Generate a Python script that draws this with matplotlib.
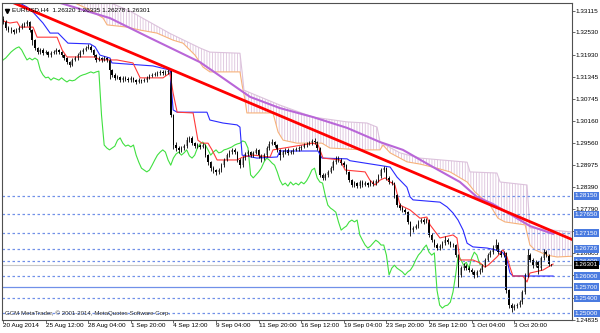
import matplotlib
matplotlib.use('Agg')
import matplotlib.pyplot as plt
import matplotlib.transforms as mtransforms
from matplotlib.patches import Polygon
import numpy as np

plt.rcParams['font.family'] = ['Liberation Sans', 'DejaVu Sans']
plt.rcParams['hatch.linewidth'] = 0.6

# EURUSD H4 candles (open of each bar = previous close)
first_open = 1.3290
closes = [
    1.3281, 1.3265, 1.3259, 1.3259, 1.3254, 1.3259, 1.3265, 1.3273, 1.3275, 1.3281,
    1.3259, 1.3232, 1.3211, 1.3200, 1.3206, 1.3198, 1.3200, 1.3192, 1.3198, 1.3200,
    1.3206, 1.3200, 1.3192, 1.3184, 1.3173, 1.3165, 1.3179, 1.3184, 1.3192, 1.3200,
    1.3206, 1.3211, 1.3214, 1.3206, 1.3192, 1.3179, 1.3184, 1.3179, 1.3184, 1.3179,
    1.3152, 1.3139, 1.3131, 1.3133, 1.3125, 1.3131, 1.3128, 1.3125, 1.3131, 1.3125,
    1.3120, 1.3125, 1.3123, 1.3125, 1.3131, 1.3136, 1.3139, 1.3141, 1.3144, 1.3147,
    1.3144, 1.3147, 1.3149, 1.3031, 1.2951, 1.2943, 1.2938, 1.2943, 1.2948, 1.2964,
    1.2970, 1.2956, 1.2948, 1.2951, 1.2946, 1.2951, 1.2924, 1.2905, 1.2889, 1.2884,
    1.2879, 1.2884, 1.2897, 1.2911, 1.2924, 1.2932, 1.2938, 1.2932, 1.2911, 1.2897,
    1.2916, 1.2927, 1.2932, 1.2924, 1.2930, 1.2938, 1.2922, 1.2916, 1.2924, 1.2943,
    1.2954, 1.2959, 1.2951, 1.2938, 1.2924, 1.2932, 1.2938, 1.2930, 1.2932, 1.2938,
    1.2940, 1.2943, 1.2946, 1.2951, 1.2954, 1.2956, 1.2962, 1.2959, 1.2943, 1.2871,
    1.2863, 1.2871, 1.2879, 1.2889, 1.2905, 1.2916, 1.2911, 1.2903, 1.2897, 1.2879,
    1.2857, 1.2844, 1.2849, 1.2841, 1.2852, 1.2844, 1.2849, 1.2844, 1.2852, 1.2847,
    1.2855, 1.2868, 1.2884, 1.2889, 1.2863, 1.2852, 1.2849, 1.2817, 1.2790, 1.2782,
    1.2777, 1.2771, 1.2745, 1.2723, 1.2729, 1.2734, 1.2745, 1.2750, 1.2745, 1.2750,
    1.2710, 1.2696, 1.2683, 1.2675, 1.2680, 1.2688, 1.2696, 1.2691, 1.2683, 1.2683,
    1.2656, 1.2603, 1.2621, 1.2629, 1.2621, 1.2616, 1.2611, 1.2603, 1.2611, 1.2616,
    1.2627, 1.2643, 1.2656, 1.2664, 1.2675, 1.2683, 1.2664, 1.2656, 1.2662, 1.2562,
    1.2522, 1.2514, 1.2520, 1.2522, 1.2530, 1.2557, 1.2603, 1.2656, 1.2643, 1.2629,
    1.2637, 1.2621, 1.2648, 1.2664, 1.2656, 1.2632, 1.2630,
]
highs = [
    1.3296, 1.3285, 1.3270, 1.3266, 1.3263, 1.3264, 1.3270, 1.3278, 1.3282, 1.3286,
    1.3284, 1.3262, 1.3236, 1.3215, 1.3211, 1.3210, 1.3205, 1.3204, 1.3203, 1.3206,
    1.3212, 1.3209, 1.3203, 1.3196, 1.3187, 1.3177, 1.3183, 1.3189, 1.3197, 1.3205,
    1.3211, 1.3216, 1.3222, 1.3218, 1.3209, 1.3195, 1.3189, 1.3188, 1.3189, 1.3188,
    1.3182, 1.3156, 1.3143, 1.3138, 1.3137, 1.3135, 1.3136, 1.3132, 1.3136, 1.3134,
    1.3129, 1.3130, 1.3129, 1.3130, 1.3135, 1.3141, 1.3144, 1.3147, 1.3149, 1.3152,
    1.3151, 1.3153, 1.3156, 1.3152, 1.3035, 1.2958, 1.2948, 1.2949, 1.2953, 1.2972,
    1.2976, 1.2974, 1.2960, 1.2957, 1.2955, 1.2956, 1.2954, 1.2928, 1.2909, 1.2894,
    1.2888, 1.2890, 1.2902, 1.2916, 1.2929, 1.2937, 1.2944, 1.2942, 1.2935, 1.2915,
    1.2921, 1.2932, 1.2937, 1.2936, 1.2935, 1.2943, 1.2941, 1.2926, 1.2929, 1.2948,
    1.2962, 1.2966, 1.2963, 1.2955, 1.2941, 1.2937, 1.2943, 1.2942, 1.2938, 1.2943,
    1.2946, 1.2949, 1.2951, 1.2956, 1.2959, 1.2962, 1.2968, 1.2970, 1.2963, 1.2946,
    1.2877, 1.2876, 1.2884, 1.2894, 1.2910, 1.2922, 1.2921, 1.2915, 1.2907, 1.2900,
    1.2882, 1.2860, 1.2855, 1.2853, 1.2857, 1.2856, 1.2854, 1.2853, 1.2857, 1.2856,
    1.2860, 1.2873, 1.2889, 1.2896, 1.2893, 1.2867, 1.2857, 1.2852, 1.2820, 1.2795,
    1.2787, 1.2781, 1.2774, 1.2748, 1.2734, 1.2739, 1.2750, 1.2755, 1.2755, 1.2756,
    1.2753, 1.2714, 1.2700, 1.2688, 1.2685, 1.2693, 1.2708, 1.2701, 1.2695, 1.2689,
    1.2686, 1.2660, 1.2626, 1.2634, 1.2633, 1.2626, 1.2621, 1.2615, 1.2616, 1.2621,
    1.2632, 1.2648, 1.2662, 1.2670, 1.2682, 1.2700, 1.2690, 1.2670, 1.2668, 1.2665,
    1.2566, 1.2527, 1.2525, 1.2528, 1.2536, 1.2562, 1.2608, 1.2672, 1.2662, 1.2648,
    1.2643, 1.2641, 1.2654, 1.2673, 1.2670, 1.2660, 1.26335,
]
lows = [
    1.3276, 1.3260, 1.3254, 1.3252, 1.3249, 1.3250, 1.3255, 1.3262, 1.3268, 1.3271,
    1.3255, 1.3218, 1.3205, 1.3195, 1.3196, 1.3193, 1.3194, 1.3187, 1.3188, 1.3194,
    1.3196, 1.3195, 1.3187, 1.3179, 1.3168, 1.3160, 1.3162, 1.3175, 1.3180, 1.3188,
    1.3196, 1.3202, 1.3207, 1.3201, 1.3187, 1.3174, 1.3175, 1.3174, 1.3175, 1.3173,
    1.3128, 1.3134, 1.3126, 1.3127, 1.3120, 1.3121, 1.3123, 1.3120, 1.3121, 1.3120,
    1.3115, 1.3116, 1.3118, 1.3119, 1.3121, 1.3127, 1.3132, 1.3135, 1.3137, 1.3140,
    1.3139, 1.3140, 1.3142, 1.3025, 1.2940, 1.2935, 1.2930, 1.2933, 1.2938, 1.2944,
    1.2960, 1.2951, 1.2943, 1.2944, 1.2941, 1.2942, 1.2918, 1.2898, 1.2882, 1.2876,
    1.2870, 1.2873, 1.2880, 1.2893, 1.2907, 1.2920, 1.2928, 1.2927, 1.2905, 1.2890,
    1.2893, 1.2912, 1.2922, 1.2919, 1.2920, 1.2926, 1.2917, 1.2905, 1.2911, 1.2920,
    1.2939, 1.2950, 1.2946, 1.2932, 1.2910, 1.2919, 1.2928, 1.2925, 1.2926, 1.2928,
    1.2934, 1.2936, 1.2939, 1.2942, 1.2947, 1.2950, 1.2952, 1.2954, 1.2938, 1.2865,
    1.2857, 1.2858, 1.2866, 1.2875, 1.2885, 1.2901, 1.2906, 1.2898, 1.2892, 1.2874,
    1.2851, 1.2838, 1.2839, 1.2836, 1.2837, 1.2839, 1.2840, 1.2838, 1.2840, 1.2842,
    1.2843, 1.2851, 1.2864, 1.2879, 1.2857, 1.2847, 1.2843, 1.2810, 1.2785, 1.2777,
    1.2772, 1.2766, 1.2739, 1.2708, 1.2718, 1.2725, 1.2730, 1.2741, 1.2740, 1.2741,
    1.2704, 1.2690, 1.2677, 1.2670, 1.2670, 1.2676, 1.2684, 1.2686, 1.2678, 1.2677,
    1.2650, 1.2571, 1.2598, 1.2615, 1.2616, 1.2610, 1.2606, 1.2595, 1.2598, 1.2606,
    1.2612, 1.2623, 1.2639, 1.2651, 1.2659, 1.2670, 1.2659, 1.2651, 1.2651, 1.2555,
    1.2514, 1.2504, 1.2509, 1.2515, 1.2517, 1.2526, 1.2552, 1.2598, 1.2637, 1.2622,
    1.2624, 1.2605, 1.2616, 1.2643, 1.2650, 1.2628, 1.26278,
]

x_labels = ['20 Aug 2014', '25 Aug 12:00', '28 Aug 04:00', '1 Sep 20:00', '4 Sep 12:00',
            '9 Sep 04:00', '11 Sep 20:00', '16 Sep 12:00', '19 Sep 04:00', '23 Sep 20:00',
            '26 Sep 12:00', '1 Oct 04:00', '3 Oct 20:00']
bars_per_label = 16

# Ichimoku and moving average, read as (bar, price) vertices
tenkan_bar = [-1, 2.6, 5.3, 6.4, 11.3, 12.8, 20.3, 22.2, 24, 34.6, 36.4, 42.8, 48.8, 51.5, 60.1,
              62.7, 63.9, 65.4, 71.4, 73.2, 74.7, 77, 78.5, 80.4, 87.9, 90.1, 93.9, 100.3, 101.4,
              116.4, 118.3, 120.2, 126.6, 128.5, 136, 137.8, 139.7, 141.6, 143.5, 145.4, 147.2,
              149.1, 152.9, 156.6, 159.2, 160.4, 164.1, 169, 170.5, 171.6, 176.5, 179.2, 181,
              182.2, 185.5, 187.8, 189.3, 190.4, 191.5, 195.3, 196.8, 197.9, 202.8, 206.6]
tenkan = [1.3286, 1.3278, 1.3281, 1.3267, 1.3267, 1.3240, 1.3240, 1.3206, 1.3187, 1.3187,
          1.3179, 1.3179, 1.3171, 1.3131, 1.3131, 1.3144, 1.3090, 1.3039, 1.3037, 1.2964,
          1.2956, 1.2956, 1.2938, 1.2911, 1.2911, 1.2919, 1.2924, 1.2919, 1.2938, 1.2956,
          1.2952, 1.2916, 1.2911, 1.2884, 1.2879, 1.2857, 1.2844, 1.2857, 1.2863, 1.2852,
          1.2844, 1.2790, 1.2777, 1.2755, 1.2758, 1.2737, 1.2702, 1.2710, 1.2702, 1.2643,
          1.2643, 1.2635, 1.2624, 1.2629, 1.2651, 1.2670, 1.2651, 1.2624, 1.2600, 1.2600,
          1.2584, 1.2608, 1.2616, 1.2632]

kijun_bar = [2.6, 9, 11.3, 15, 17.7, 20.7, 22.2, 24.4, 32.7, 34.6, 36.4, 40.2, 40.9, 56.3,
             62.7, 63.9, 65.4, 76.6, 77.7, 82.6, 87.9, 89, 89.8, 95.4, 103, 104, 118.3, 119.8,
             129.2, 130.3, 145.4, 148, 151.7, 152.9, 154, 164.1, 166.8, 169, 170.9, 172.8,
             174.3, 176.5, 181.8, 185.5, 187.8, 189.3, 190.4, 191.5, 206.6]
kijun = [1.3345, 1.3321, 1.3307, 1.3278, 1.3251, 1.3251, 1.3240, 1.3224, 1.3222, 1.3214,
         1.3192, 1.3184, 1.3171, 1.3163, 1.3152, 1.3045, 1.3039, 1.3039, 1.3018, 1.3010,
         1.3005, 1.2999, 1.2924, 1.2916, 1.2919, 1.2935, 1.2935, 1.2916, 1.2914, 1.2909,
         1.2892, 1.2865, 1.2838, 1.2812, 1.2804, 1.2798, 1.2785, 1.2769, 1.2750, 1.2723,
         1.2688, 1.2678, 1.2675, 1.2669, 1.2662, 1.2643, 1.2608, 1.2600, 1.2600]

span_a_bar = [24.4, 32.7, 37.6, 39.1, 46.6, 51.5, 57.8, 63.9, 67.6, 72.1, 75.1, 77.7, 89,
              89.8, 90.9, 91.6, 101.4, 103.3, 105.2, 110.4, 119.8, 122.8, 135.2, 141.6, 142.7,
              145.4, 151.7, 156.6, 163, 167.9, 174.3, 177.3, 182.9, 185.9, 188.5, 196.1, 197.9,
              199.8, 204.3, 208.1, 213.7]
span_a = [1.3340, 1.3313, 1.3291, 1.3273, 1.3267, 1.3259, 1.3251, 1.3232, 1.3224, 1.3192,
          1.3160, 1.3147, 1.3147, 1.3112, 1.3072, 1.3037, 1.3037, 1.2986, 1.2964, 1.2956,
          1.2956, 1.2943, 1.2938, 1.2938, 1.2951, 1.2930, 1.2906, 1.2900, 1.2889, 1.2879,
          1.2852, 1.2825, 1.2790, 1.2755, 1.2745, 1.2737, 1.2683, 1.2670, 1.2656, 1.2651,
          1.2653]

span_b_bar = [24.4, 47.7, 62.7, 74, 77.7, 89, 89.8, 90.5, 104, 116.4, 129.2, 136.7, 140.5,
              141.6, 149.1, 156.6, 174.3, 175.4, 185.5, 186.7, 196.8, 197.9, 213.7]
span_b = [1.3380, 1.3310, 1.3250, 1.3211, 1.3200, 1.3197, 1.3147, 1.3098, 1.3058, 1.3026,
          1.3013, 1.3010, 1.2999, 1.2959, 1.2930, 1.2916, 1.2905, 1.2879, 1.2876, 1.2852,
          1.2844, 1.2729, 1.2718]

ma_bar = [17.7, 40.2, 55.2, 74, 81.5, 92.8, 104, 116.4, 129.2, 141.6, 150.2, 161.5, 171.6,
          178, 184, 190.4, 197.9, 206.6]
ma = [1.3340, 1.3291, 1.3238, 1.3173, 1.3136, 1.3080, 1.3050, 1.3026, 1.2997, 1.2959,
      1.2938, 1.2892, 1.2852, 1.2812, 1.2793, 1.2766, 1.2734, 1.2713]

chikou_shift = 26

trend_bar = [4, 214]
trend_price = [1.3332, 1.2697]

# horizontal levels
dotted_levels = [1.28150, 1.27650, 1.27150, 1.26726, 1.26400, 1.26000, 1.25400, 1.25000]
solid_level = 1.25700
marked_levels = [1.28150, 1.27650, 1.27150, 1.26726, 1.26400, 1.26000, 1.25700, 1.25400, 1.25000]
last_price = 1.26301
y_ticks = [1.33115, 1.32530, 1.31930, 1.31345, 1.30745, 1.30160, 1.29560, 1.28975,
           1.28390, 1.27790, 1.27205, 1.26605, 1.26020, 1.25420, 1.24835]
hidden_ticks = [1.27205, 1.26020, 1.25420]

n = len(closes)
bars = np.arange(n)
opens = np.array([first_open] + closes[:-1])
closes = np.array(closes)

fig = plt.figure(figsize=(6, 3.33), dpi=100)
ax = fig.add_axes([2 / 600, 1 - 319.5 / 333, 570 / 600, 316.5 / 333])
ax.set_xlim(-0.376, 213.7)
ax.set_ylim(1.24835, 1.33316)

# cloud
cloud = Polygon(list(zip(span_a_bar, span_a)) + list(zip(span_b_bar[::-1], span_b[::-1])),
                closed=True, facecolor='none', edgecolor='#dcc2dc', hatch='||||||', lw=0)
ax.add_patch(cloud)
ax.plot(span_a_bar, span_a, color='#f7b27a', lw=0.8)
ax.plot(span_b_bar, span_b, color='#dcc2dc', lw=0.8)

# levels
for lv in dotted_levels:
    ax.axhline(lv, color='#7090e8', lw=0.9, ls=(0, (2, 2)))
ax.axhline(solid_level, color='#7090e8', lw=0.9)
ax.axhline(last_price, color='#c8c8c8', lw=0.8)

ax.plot(ma_bar, ma, color='#b966d8', lw=1.5)
ax.plot(bars - chikou_shift, closes, color='#40e040', lw=0.8)
ax.plot(kijun_bar, kijun, color='#2a2aff', lw=0.8)
ax.plot(tenkan_bar, tenkan, color='#ff3a3a', lw=0.8)

# candles
up = closes >= opens
ax.vlines(bars, lows, highs, color='black', lw=0.6)
ax.bar(bars, closes - opens, bottom=opens, width=0.6,
       color=np.where(up, '#a8a8a8', 'black'), lw=0)

ax.plot(trend_bar, trend_price, color='red', lw=2)

# axes styling
for s in ax.spines.values():
    s.set_color('#505050')
    s.set_linewidth(0.8)
ax.yaxis.tick_right()
ax.set_yticks(y_ticks)
ax.set_yticklabels(['' if v in hidden_ticks else '%.5f' % v for v in y_ticks])
ax.set_xticks(np.arange(len(x_labels)) * bars_per_label)
ax.set_xticklabels(x_labels)
ax.tick_params(axis='both', labelsize=4.6, length=2, width=0.6, pad=0.6, color='#505050')
for lbl in ax.get_xticklabels():
    lbl.set_ha('left')

tr = mtransforms.blended_transform_factory(ax.transAxes, ax.transData)
for lv in marked_levels:
    ax.text(1.005, lv, '%.5f' % lv, transform=tr, fontsize=4.6, color='white', va='center',
            ha='left', clip_on=False, zorder=5,
            bbox=dict(boxstyle='square,pad=0.2', fc='#4a7be0', ec='none'))
ax.text(1.005, last_price, '%.5f' % last_price, transform=tr, fontsize=4.6, color='white',
        va='center', ha='left', clip_on=False, zorder=5,
        bbox=dict(boxstyle='square,pad=0.2', fc='black', ec='none'))

ax.text(0.018, 0.985, 'EURUSD,H4  1.26320 1.26335 1.26278 1.26301', transform=ax.transAxes,
        fontsize=4.6, va='top', ha='left')
ax.plot([0.008], [0.975], marker='v', ms=3, color='black', transform=ax.transAxes,
        clip_on=False)
ax.text(0.006, 0.012, 'GCM MetaTrader, \u00a9 2001-2014, MetaQuotes Software Corp.',
        transform=ax.transAxes, fontsize=4.4, va='bottom', ha='left', color='#303030')

fig.savefig('out.png', dpi=100, facecolor='white')
